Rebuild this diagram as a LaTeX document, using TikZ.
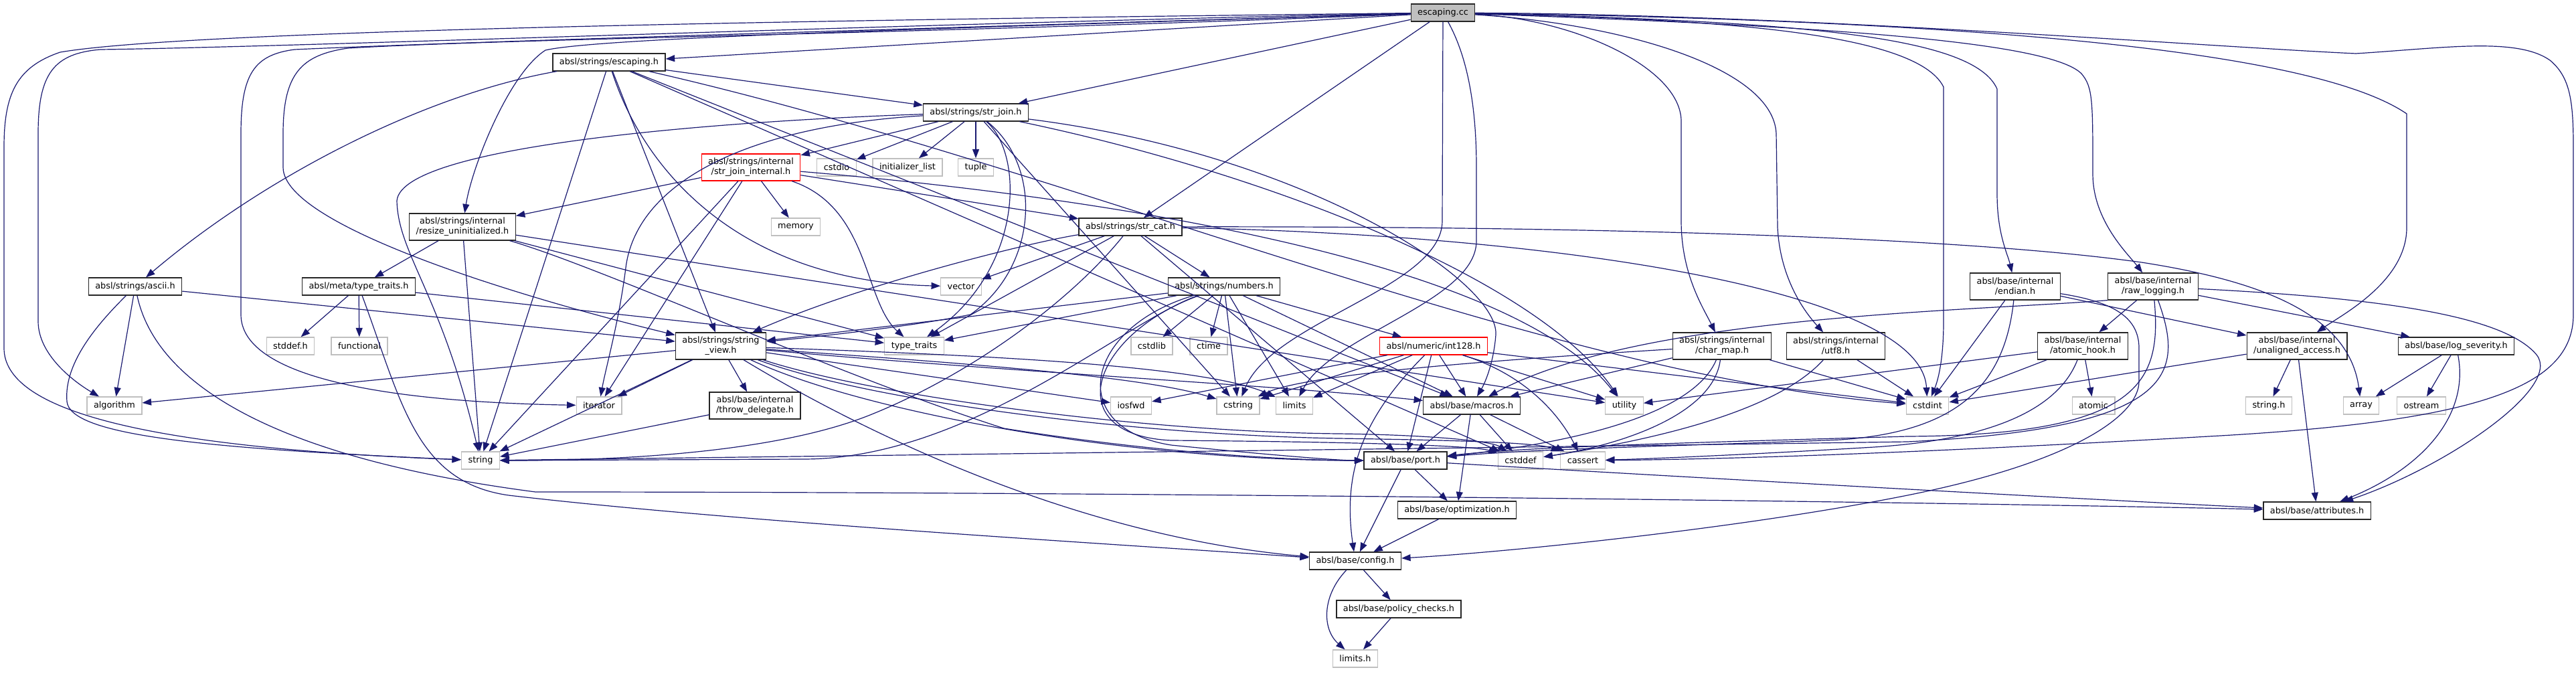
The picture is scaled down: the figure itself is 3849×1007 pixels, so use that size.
\documentclass[tikz,border=0pt]{standalone}
\usepackage{fontspec}
\setmainfont{DejaVu Sans}
\usepackage{tikz}
\usetikzlibrary{arrows.meta}
\usepackage{xcolor}
\definecolor{edgeblue}{RGB}{25, 25, 112}
\definecolor{leafgray}{RGB}{191, 191, 191}
\definecolor{srcgray}{RGB}{191, 191, 191}
\newcommand{\graphfont}{\fontsize{7.3}{8.4}\selectfont}
\tikzset{
  hdr/.style={draw=black!85, fill=white, line width=0.7pt, inner xsep=0.2cm, inner ysep=0pt, minimum height=0.52cm, align=center},
  twoline/.style={minimum height=0.8cm},
  syshdr/.style={hdr, draw=leafgray},
  trunc/.style={hdr, draw=red},
  srcfile/.style={hdr, fill=srcgray},
  incl/.style={->, draw=edgeblue, line width=0.68pt}
}

\begin{document}
\begin{tikzpicture}[>={Triangle[length=0.27cm, width=0.2cm]}, font=\graphfont, x=0.02cm, y=-0.02cm]
  \useasboundingbox (0,0) rectangle (3849,1007);
  % files
  \node[srcfile] (EC) at (2156,19) {escaping.cc};
  \node[hdr] (EH) at (910,93) {absl/strings/escaping.h};
  \node[hdr] (SJ) at (1458,168) {absl/strings/str\_join.h};
  \node[trunc, twoline] (SJI) at (1122,250) {absl/strings/internal\\/str\_join\_internal.h};
  \node[syshdr] (CSTDIO) at (1250,250) {cstdio};
  \node[syshdr] (INIT) at (1356,250) {initializer\_list};
  \node[syshdr] (TUPLE) at (1458,250) {tuple};
  \node[hdr, twoline] (RU) at (691,339) {absl/strings/internal\\/resize\_uninitialized.h};
  \node[syshdr] (MEM) at (1189,339) {memory};
  \node[hdr] (SC) at (1689,339) {absl/strings/str\_cat.h};
  \node[hdr] (AS) at (202,428) {absl/strings/ascii.h};
  \node[hdr] (MT) at (536,428) {absl/meta/type\_traits.h};
  \node[syshdr] (VEC) at (1436,428) {vector};
  \node[hdr] (NU) at (1829,428) {absl/strings/numbers.h};
  \node[hdr, twoline] (EN) at (3011,428) {absl/base/internal\\/endian.h};
  \node[hdr, twoline] (RL) at (3217,428) {absl/base/internal\\/raw\_logging.h};
  \node[syshdr] (STDDEF) at (434,517) {stddef.h};
  \node[syshdr] (FUNC) at (537,517) {functional};
  \node[hdr, twoline] (SV) at (1077,517) {absl/strings/string\\\_view.h};
  \node[syshdr] (TT) at (1366,517) {type\_traits};
  \node[syshdr] (CSTDLIB) at (1721,517) {cstdlib};
  \node[syshdr] (CTIME) at (1806,517) {ctime};
  \node[trunc] (I128) at (2142,517) {absl/numeric/int128.h};
  \node[hdr, twoline] (CM) at (2573,517) {absl/strings/internal\\/char\_map.h};
  \node[hdr, twoline] (U8) at (2743,517) {absl/strings/internal\\/utf8.h};
  \node[hdr, twoline] (AH) at (3112,517) {absl/base/internal\\/atomic\_hook.h};
  \node[hdr, twoline] (UA) at (3432,517) {absl/base/internal\\/unaligned\_access.h};
  \node[hdr] (LS) at (3670,517) {absl/base/log\_severity.h};
  \node[syshdr] (ALG) at (171,606) {algorithm};
  \node[syshdr] (ITER) at (895,606) {iterator};
  \node[hdr, twoline] (TD) at (1128,606) {absl/base/internal\\/throw\_delegate.h};
  \node[syshdr] (IOS) at (1690,606) {iosfwd};
  \node[syshdr] (CSTR) at (1850,606) {cstring};
  \node[syshdr] (LIM) at (1934,606) {limits};
  \node[hdr] (MA) at (2199,606) {absl/base/macros.h};
  \node[syshdr] (UTIL) at (2427,606) {utility};
  \node[syshdr] (CINT) at (2880,606) {cstdint};
  \node[syshdr] (ATOM) at (3128,606) {atomic};
  \node[syshdr] (STRH) at (3390,606) {string.h};
  \node[syshdr] (ARR) at (3528,606) {array};
  \node[syshdr] (OST) at (3618,606) {ostream};
  \node[syshdr] (STR) at (718,688) {string};
  \node[hdr] (PO) at (2100,688) {absl/base/port.h};
  \node[syshdr] (CDEF) at (2272,688) {cstddef};
  \node[syshdr] (CASS) at (2365,688) {cassert};
  \node[hdr] (OPT) at (2177,762) {absl/base/optimization.h};
  \node[hdr] (AT) at (3462,763) {absl/base/attributes.h};
  \node[hdr] (CF) at (2025,838) {absl/base/config.h};
  \node[hdr] (PC) at (2090,910) {absl/base/policy\_checks.h};
  \node[syshdr] (LIMH) at (2025,984) {limits.h};

  % escaping.cc
  \draw[incl] (EC) -- (EH);
  \draw[incl] (EC) -- (SJ);
  \draw[incl] (EC) -- (SC);
  \draw[incl] (EC) .. controls (1400,28) and (300,42) .. (90,78) .. controls (25,100) and (6,140) .. (6,220) -- (6,520) .. controls (6,610) and (200,668) .. (STR);
  \draw[incl] (EC) .. controls (1400,34) and (450,70) .. (150,74) .. controls (80,80) and (57,110) .. (57,200) -- (57,480) .. controls (57,530) and (110,570) .. (ALG);
  \draw[incl] (EC) .. controls (1400,42) and (700,62) .. (440,74) .. controls (380,82) and (360,110) .. (360,200) -- (360,470) .. controls (360,560) and (560,600) .. (ITER);
  \draw[incl] (EC) .. controls (1400,50) and (750,58) .. (520,72) .. controls (450,82) and (423,110) .. (423,200) -- (423,250) .. controls (423,340) and (800,450) .. (SV);
  \draw[incl] (EC) .. controls (1500,40) and (900,55) .. (815,75) .. controls (760,110) and (705,250) .. (RU);
  \draw[incl] (EC) -- (2155,330) .. controls (2155,430) and (1900,480) .. (CSTR);
  \draw[incl] (EC) .. controls (2190,80) and (2206,150) .. (2206,250) -- (2206,360) .. controls (2206,450) and (1990,500) .. (LIM);
  \draw[incl] (EC) .. controls (2350,28) and (2510,100) .. (2512,180) -- (2512,330) .. controls (2512,410) and (2545,460) .. (CM);
  \draw[incl] (EC) .. controls (2420,35) and (2650,100) .. (2654,200) -- (2656,340) .. controls (2660,420) and (2700,470) .. (U8);
  \draw[incl] (EC) .. controls (2500,28) and (2860,40) .. (2904,130) -- (2904,480) .. controls (2904,540) and (2895,570) .. (CINT);
  \draw[incl] (EC) .. controls (2700,32) and (2950,55) .. (2984,133) -- (2984,290) .. controls (2984,350) and (3000,380) .. (EN);
  \draw[incl] (EC) .. controls (2700,38) and (3060,60) .. (3110,110) .. controls (3127,130) and (3127,150) .. (3127,260) .. controls (3127,330) and (3180,380) .. (RL);
  \draw[incl] (EC) .. controls (2900,30) and (3450,70) .. (3596,170) -- (3596,340) .. controls (3596,420) and (3500,470) .. (UA);
  \draw[incl] (EC) .. controls (2700,22) and (3300,70) .. (3520,80) .. controls (3650,72) and (3760,55) .. (3810,90) .. controls (3840,115) and (3845,150) .. (3845,220) -- (3845,470) .. controls (3845,580) and (3700,630) .. (3300,652) .. controls (2900,675) and (2600,686) .. (CASS);

  % escaping.h
  \draw[incl] (EH) .. controls (640,140) and (400,260) .. (AS);
  \draw[incl] (EH) -- (SJ);
  \draw[incl] (EH) .. controls (960,250) and (1100,420) .. (VEC);
  \draw[incl] (EH) -- (SV);
  \draw[incl] (EH) -- (MA);
  \draw[incl] (EH) .. controls (1600,250) and (2300,560) .. (CINT);
  \draw[incl] (EH) -- (CDEF);
  \draw[incl] (EH) -- (STR);

  % str_join.h
  \draw[incl] (SJ) -- (SJI);
  \draw[incl] (SJ) -- (CSTDIO);
  \draw[incl] (SJ) -- (INIT);
  \draw[incl] (SJ) -- (TUPLE);
  \draw[incl] (SJ) .. controls (1100,180) and (600,215) .. (593,300) .. controls (595,380) and (660,440) .. (STR);
  \draw[incl] (SJ) .. controls (1100,190) and (950,280) .. (935,400) .. controls (925,480) and (905,550) .. (ITER);
  \draw[incl] (SJ) .. controls (1530,230) and (1530,400) .. (TT);
  \draw[incl] (SJ) .. controls (1560,250) and (1550,400) .. (1450,470) .. controls (1350,490) and (1200,505) .. (SV);
  \draw[incl] (SJ) -- (CSTR);
  \draw[incl] (SJ) .. controls (1900,260) and (2300,420) .. (UTIL);
  \draw[incl] (SJ) .. controls (1950,230) and (2240,420) .. (2235,500) .. controls (2232,540) and (2220,570) .. (MA);

  % str_join_internal.h
  \draw[incl] (SJI) -- (RU);
  \draw[incl] (SJI) -- (MEM);
  \draw[incl] (SJI) -- (SC);
  \draw[incl] (SJI) -- (ITER);
  \draw[incl] (SJI) -- (STR);
  \draw[incl] (SJI) .. controls (1300,310) and (1290,450) .. (TT);
  \draw[incl] (SJI) .. controls (1600,290) and (2250,380) .. (UTIL);

  % resize_uninitialized.h
  \draw[incl] (RU) -- (MT);
  \draw[incl] (RU) -- (STR);
  \draw[incl] (RU) -- (TT);
  \draw[incl] (RU) -- (UTIL);
  \draw[incl] (RU) .. controls (900,400) and (1250,560) .. (1500,640) .. controls (1750,680) and (1950,688) .. (PO);

  % type_traits.h and ascii.h
  \draw[incl] (MT) -- (STDDEF);
  \draw[incl] (MT) -- (FUNC);
  \draw[incl] (MT) -- (TT);
  \draw[incl] (MT) .. controls (600,600) and (620,720) .. (760,740) .. controls (1100,780) and (1700,815) .. (CF);
  \draw[incl] (AS) -- (ALG);
  \draw[incl] (AS) .. controls (150,480) and (95,540) .. (100,600) .. controls (105,650) and (300,670) .. (STR);
  \draw[incl] (AS) .. controls (230,560) and (380,680) .. (800,735) .. controls (1800,735) and (3000,752) .. (AT);
  \draw[incl] (AS) -- (SV);

  % str_cat.h
  \draw[incl] (SC) -- (VEC);
  \draw[incl] (SC) -- (NU);
  \draw[incl] (SC) .. controls (1550,360) and (1300,420) .. (SV);
  \draw[incl] (SC) -- (TT);
  \draw[incl] (SC) .. controls (1600,450) and (1450,560) .. (1300,620) .. controls (1150,680) and (900,688) .. (STR);
  \draw[incl] (SC) .. controls (2300,338) and (2900,350) .. (3200,392) .. controls (3380,420) and (3510,470) .. (ARR);
  \draw[incl] (SC) .. controls (2300,350) and (2870,430) .. (CINT);
  \draw[incl] (SC) -- (PO);

  % numbers.h
  \draw[incl] (NU) -- (CSTDLIB);
  \draw[incl] (NU) -- (CTIME);
  \draw[incl] (NU) -- (CSTR);
  \draw[incl] (NU) -- (LIM);
  \draw[incl] (NU) -- (I128);
  \draw[incl] (NU) -- (SV);
  \draw[incl] (NU) -- (TT);
  \draw[incl] (NU) -- (MA);
  \draw[incl] (NU) .. controls (1680,480) and (1450,686) .. (1200,686) -- (STR);
  \draw[incl] (NU) .. controls (1620,490) and (1590,640) .. (1750,665) .. controls (1900,680) and (2000,688) .. (PO);
  \draw[incl] (NU) .. controls (1630,500) and (1580,650) .. (1750,658) .. controls (2000,660) and (2200,665) .. (CDEF);

  % int128.h
  \draw[incl] (I128) -- (CSTR);
  \draw[incl] (I128) -- (LIM);
  \draw[incl] (I128) -- (IOS);
  \draw[incl] (I128) -- (MA);
  \draw[incl] (I128) -- (UTIL);
  \draw[incl] (I128) -- (CINT);
  \draw[incl] (I128) -- (PO);
  \draw[incl] (I128) .. controls (2280,560) and (2330,620) .. (CASS);
  \draw[incl] (I128) .. controls (2040,620) and (2005,700) .. (CF);

  % string_view.h
  \draw[incl] (SV) -- (ALG);
  \draw[incl] (SV) -- (ITER);
  \draw[incl] (SV) -- (STR);
  \draw[incl] (SV) -- (TD);
  \draw[incl] (SV) -- (IOS);
  \draw[incl] (SV) .. controls (1400,540) and (1700,560) .. (CSTR);
  \draw[incl] (SV) .. controls (1450,530) and (1800,545) .. (LIM);
  \draw[incl] (SV) .. controls (1500,555) and (1900,575) .. (MA);
  \draw[incl] (SV) .. controls (1300,600) and (1700,650) .. (2000,655) .. controls (2200,658) and (2300,662) .. (CASS);
  \draw[incl] (SV) .. controls (1300,590) and (1700,645) .. (2000,648) .. controls (2150,650) and (2230,660) .. (CDEF);
  \draw[incl] (SV) .. controls (1300,620) and (1700,688) .. (PO);
  \draw[incl] (SV) .. controls (1280,640) and (1600,800) .. (CF);
  \draw[incl] (TD) -- (STR);

  % char_map.h and utf8.h
  \draw[incl] (CM) .. controls (2200,540) and (1950,560) .. (CSTR);
  \draw[incl] (CM) -- (MA);
  \draw[incl] (CM) .. controls (2530,620) and (2350,662) .. (PO);
  \draw[incl] (CM) .. controls (2560,620) and (2420,665) .. (CDEF);
  \draw[incl] (CM) -- (CINT);
  \draw[incl] (U8) .. controls (2650,620) and (2450,660) .. (CDEF);
  \draw[incl] (U8) -- (CINT);

  % endian.h
  \draw[incl] (EN) -- (CINT);
  \draw[incl] (EN) -- (UA);
  \draw[incl] (EN) .. controls (2995,580) and (2920,645) .. (2750,657) .. controls (2500,667) and (2300,670) .. (PO);
  \draw[incl] (EN) .. controls (3150,450) and (3196,470) .. (3196,520) -- (3196,570) .. controls (3196,620) and (3100,690) .. (2850,740) .. controls (2600,790) and (2250,825) .. (CF);

  % raw_logging.h
  \draw[incl] (RL) -- (AH);
  \draw[incl] (RL) -- (LS);
  \draw[incl] (RL) .. controls (3550,445) and (3740,470) .. (3790,530) .. controls (3830,580) and (3650,700) .. (AT);
  \draw[incl] (RL.south west) .. controls (2950,465) and (2450,470) .. (MA);
  \draw[incl] (RL) .. controls (3230,570) and (3200,650) .. (2850,652) .. controls (2500,662) and (2280,668) .. (PO);
  \draw[incl] (RL) .. controls (3265,560) and (3250,640) .. (2850,660) .. controls (2300,668) and (1500,678) .. (STR);

  % atomic_hook.h, log_severity.h, unaligned_access.h
  \draw[incl] (AH) -- (UTIL);
  \draw[incl] (AH) -- (CINT);
  \draw[incl] (AH) -- (ATOM);
  \draw[incl] (AH) .. controls (3080,600) and (3000,655) .. (2800,668) .. controls (2600,680) and (2450,686) .. (CASS);
  \draw[incl] (LS) -- (ARR);
  \draw[incl] (LS) -- (OST);
  \draw[incl] (LS) .. controls (3690,620) and (3620,700) .. (AT);
  \draw[incl] (UA) -- (STRH);
  \draw[incl] (UA) -- (AT);
  \draw[incl] (UA) -- (CINT);

  % base
  \draw[incl] (MA) -- (PO);
  \draw[incl] (MA) -- (CDEF);
  \draw[incl] (MA) -- (CASS);
  \draw[incl] (MA) -- (OPT);
  \draw[incl] (PO) -- (OPT);
  \draw[incl] (PO) -- (CF);
  \draw[incl] (PO) .. controls (2500,712) and (3100,745) .. (AT);
  \draw[incl] (OPT) -- (CF);
  \draw[incl] (CF) -- (PC);
  \draw[incl] (CF) .. controls (1975,890) and (1975,940) .. (LIMH);
  \draw[incl] (PC) -- (LIMH);
\end{tikzpicture}
\end{document}
